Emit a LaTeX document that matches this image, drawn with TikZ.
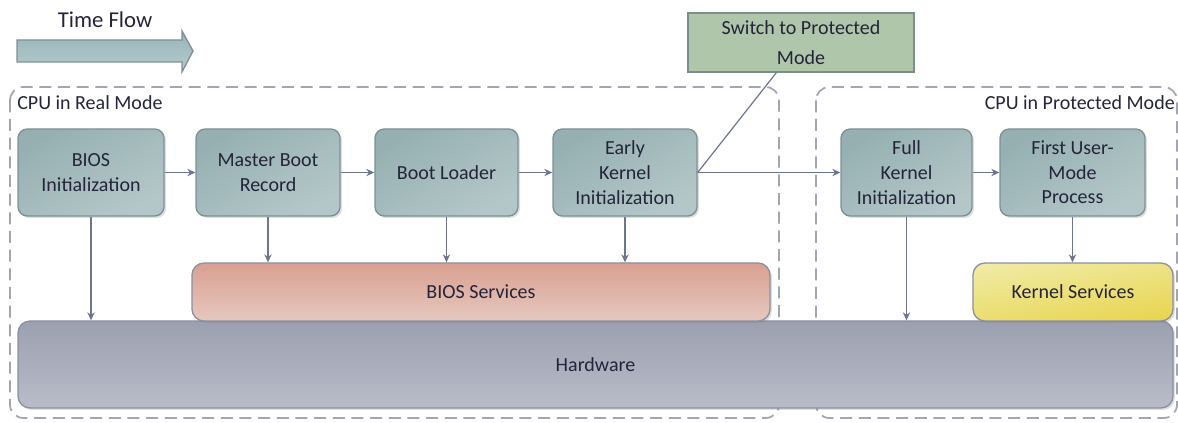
\documentclass[tikz,border=0pt]{standalone}
\usepackage{fontspec}
\setmainfont{Carlito}
\usetikzlibrary{arrows.meta,shadows,calc}
\definecolor{procA}{HTML}{96B0B2}
\definecolor{procB}{HTML}{B4C7C8}
\definecolor{procLine}{HTML}{7D9096}
\definecolor{biosA}{HTML}{D8A090}
\definecolor{biosB}{HTML}{E6C8BF}
\definecolor{kernA}{HTML}{F0EAA2}
\definecolor{kernB}{HTML}{E8D653}
\definecolor{hwA}{HTML}{9BA0B0}
\definecolor{hwB}{HTML}{B9BCC8}
\definecolor{hwLine}{HTML}{8A90A2}
\definecolor{swFill}{HTML}{AFC6AB}
\definecolor{swLine}{HTML}{7F8C8E}
\definecolor{arr}{HTML}{6C7490}
\definecolor{dashc}{HTML}{A2A5B2}
\definecolor{txt}{HTML}{24243A}
\definecolor{tfA}{HTML}{97B4B8}
\definecolor{tfB}{HTML}{B6CBCD}
\tikzset{
  every node/.style={text=txt},
  boxtext/.style={font=\fontsize{15pt}{18.5pt}\selectfont, align=center},
  procbox/.style={boxtext, draw=procLine, line width=1pt, rounded corners=7pt,
    top color=procA, bottom color=procB, shading angle=30,
    minimum height=65.25pt, inner sep=2pt,
    drop shadow={shadow xshift=1.5pt, shadow yshift=-1.5pt, opacity=0.25}},
  layerbox/.style={boxtext, draw=hwLine, line width=1pt, rounded corners=9pt,
    minimum height=43.5pt,
    drop shadow={shadow xshift=1.5pt, shadow yshift=-1.5pt, opacity=0.25}},
  conn/.style={draw=arr, line width=0.9pt, -{Stealth[length=6pt,width=5.5pt]}},
  plainconn/.style={draw=arr, line width=0.9pt},
  region/.style={draw=dashc, line width=1.3pt, dash pattern=on 9pt off 5pt, rounded corners=10pt},
  regionlabel/.style={font=\fontsize{15pt}{18pt}\selectfont, inner sep=0pt}
}
\begin{document}
\begin{tikzpicture}[x=0.75pt,y=-0.75pt]
\useasboundingbox (0,0) rectangle (1178,423);

% time flow
\node[font=\fontsize{17pt}{20pt}\selectfont, inner sep=0pt] (tf) at (105,20) {Time Flow};
\shade[top color=tfA, bottom color=tfB, draw=procLine, line width=1pt]
  (17,40) -- (182,40) -- (182,31) -- (193,51) -- (182,72) -- (182,62) -- (17,62) -- cycle;

% regions
\draw[region] (10,87) rectangle (779,418);
\draw[region] (816,87) rectangle (1177,418);
\node[regionlabel, anchor=west] (rl) at (17,103) {CPU in Real Mode};
\node[regionlabel, anchor=east] (pl) at (1175,103) {CPU in Protected Mode};

% layers
\node[layerbox, minimum width=866.25pt, minimum height=65.25pt,
  top color=hwA, bottom color=hwB] (hw) at (595.5,364.5) {Hardware};
\node[layerbox, minimum width=433.5pt, top color=biosA, bottom color=biosB] (bs) at (481,292) {BIOS Services};
\node[layerbox, minimum width=150pt, top color=kernA, bottom color=kernB, shading angle=10] (ks) at (1073,292) {Kernel Services};

% process boxes
\node[procbox, minimum width=109.5pt] (bios) at (91,172.5) {BIOS\\Initialization};
\node[procbox, minimum width=108pt] (mbr) at (268,172.5) {Master Boot\\Record};
\node[procbox, minimum width=107.25pt] (bl) at (446.5,172.5) {Boot Loader};
\node[procbox, minimum width=108pt] (eki) at (625,172.5) {Early\\Kernel\\Initialization};
\node[procbox, minimum width=98.25pt] (fki) at (906.5,172.5) {Full\\Kernel\\Initialization};
\node[procbox, minimum width=108.75pt] (fu) at (1072.5,172.5) {First User-\\Mode\\Process};

% switch box
\node[font=\fontsize{15pt}{22.5pt}\selectfont, align=center, draw=swLine, line width=1pt,
  fill=swFill, minimum width=169.5pt, minimum height=44.25pt, inner sep=1pt] (sw) at (801,42.5)
  {Switch to Protected\\Mode};
\coordinate (swfoot) at ($(sw.south west)+(89,0)$);

% connectors
\draw[conn] (bios) -- (mbr);
\draw[conn] (mbr) -- (bl);
\draw[conn] (bl) -- (eki);
\draw[conn] (eki) -- (fki);
\draw[conn] (fki) -- (fu);
\draw[plainconn] (eki.east) -- (swfoot);

\draw[conn] (bios.south) -- (bios.south |- hw.north);
\draw[conn] (mbr.south) -- (mbr.south |- bs.north);
\draw[conn] (bl.south) -- (bl.south |- bs.north);
\draw[conn] (eki.south) -- (eki.south |- bs.north);
\draw[conn] (fki.south) -- (fki.south |- hw.north);
\draw[conn] (fu.south) -- (fu.south |- ks.north);
\end{tikzpicture}
\end{document}
